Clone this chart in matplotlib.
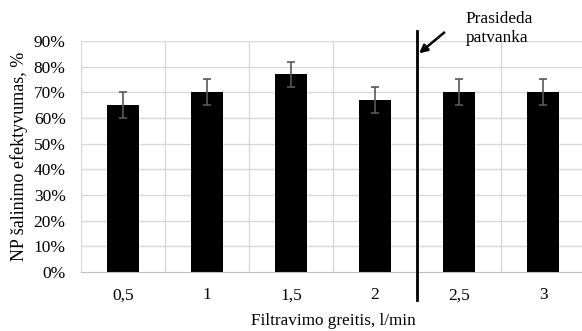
import matplotlib
matplotlib.use("Agg")
import matplotlib.pyplot as plt
import numpy as np

categories = ["0,5", "1", "1,5", "2", "2,5", "3"]
values = [65, 70, 77, 67, 70, 70]
errors = [5, 5, 5, 5, 5, 5]
yticks = [0, 10, 20, 30, 40, 50, 60, 70, 80, 90]

plt.rcParams['font.family'] = ['Liberation Serif', 'DejaVu Serif']

fig = plt.figure(figsize=(5.82, 3.31), dpi=100)
W, H = 582, 331
left, right, top, bottom = 81, 585, 41, 272
ax = fig.add_axes([left / W, 1 - bottom / H, (right - left) / W, (bottom - top) / H])

x = np.arange(len(categories))
ax.bar(x, values, width=0.38, color='black', zorder=3)
ax.errorbar(x, values, yerr=errors, fmt='none', ecolor='#595959', elinewidth=1.2,
            capsize=3, capthick=1.2, zorder=4)

ax.set_xlim(-0.5, len(categories) - 0.5)
ax.set_ylim(0, 90)
ax.set_yticks(yticks)
ax.set_yticklabels([f"{v}%" for v in yticks], fontsize=12.5)
ax.set_xticks(x)
ax.set_xticklabels(categories, fontsize=12.5)
ax.tick_params(axis='x', length=0, pad=11)
ax.tick_params(axis='y', length=0, pad=11)

for yv in yticks[1:]:
    ax.axhline(yv, color='#d9d9d9', lw=1, zorder=1)
for xv in np.arange(-0.5, len(categories), 1.0):
    ax.axvline(xv, color='#d9d9d9', lw=1, zorder=1)

for s in ['top', 'right', 'left']:
    ax.spines[s].set_visible(False)
ax.spines['bottom'].set_color('#bfbfbf')
ax.spines['bottom'].set_zorder(5)

ax.set_ylabel("NP šalinimo efektyvumas, %", fontsize=13, labelpad=4)
ax.set_xlabel("Filtravimo greitis, l/min", fontsize=12.3, labelpad=7)

# vertical marker line between 2 and 2.5
ax.plot([3.5, 3.5], [-11, 94], color='black', lw=2, clip_on=False, zorder=6)
ax.annotate("", xy=(3.5, 84.5), xytext=(3.85, 94),
            arrowprops=dict(arrowstyle='-|>', color='black', lw=1.8, mutation_scale=12),
            annotation_clip=False, zorder=7)
ax.text(4.08, 101.5, "Prasideda\npatvanka", fontsize=12.4, va='top', ha='left',
        linespacing=1.25, clip_on=False)

fig.savefig("out.png", dpi=100)
